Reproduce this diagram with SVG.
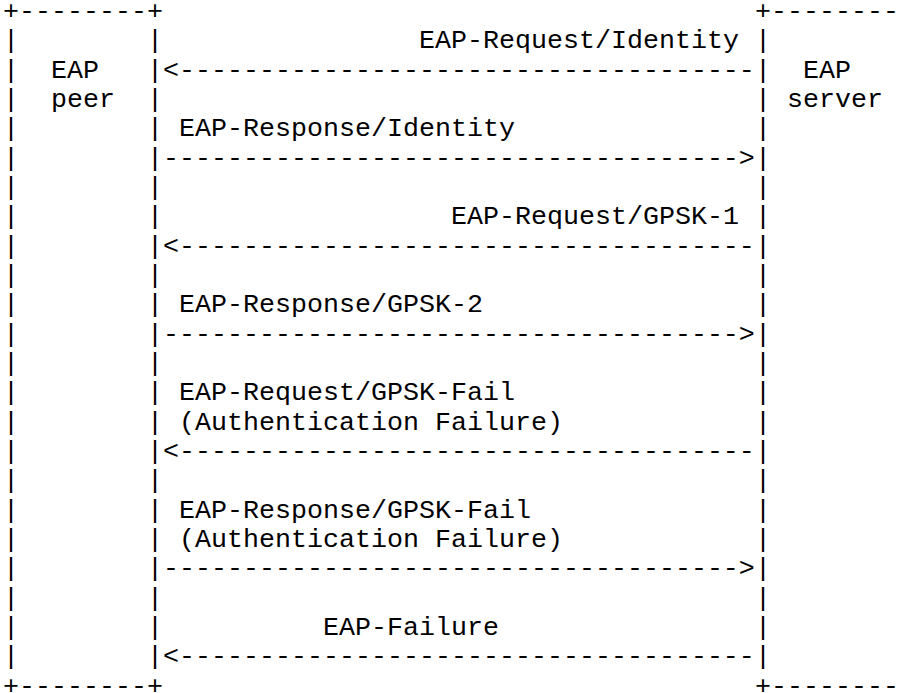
<svg xmlns="http://www.w3.org/2000/svg" width="905" height="693" viewBox="0 0 905 693">
<style>
text { font-family: "Liberation Mono", "Courier New", "DejaVu Sans Mono", monospace; font-size: 26.67px; fill: #000; white-space: pre; }
</style>
<rect width="905" height="693" fill="#fff"/>
<g id="peer">
<text xml:space="preserve" x="3" y="19">+--------+</text>
<text xml:space="preserve" x="3"><tspan x="3" y="48.33">|        |</tspan><tspan x="3" y="77.67">|  EAP   |</tspan><tspan x="3" y="107">|  peer  |</tspan><tspan x="3" y="136.33">|        |</tspan><tspan x="3" y="165.67">|        |</tspan><tspan x="3" y="195">|        |</tspan><tspan x="3" y="224.33">|        |</tspan><tspan x="3" y="253.67">|        |</tspan><tspan x="3" y="283">|        |</tspan><tspan x="3" y="312.33">|        |</tspan><tspan x="3" y="341.67">|        |</tspan><tspan x="3" y="371">|        |</tspan><tspan x="3" y="400.33">|        |</tspan><tspan x="3" y="429.67">|        |</tspan><tspan x="3" y="459">|        |</tspan><tspan x="3" y="488.33">|        |</tspan><tspan x="3" y="517.67">|        |</tspan><tspan x="3" y="547">|        |</tspan><tspan x="3" y="576.33">|        |</tspan><tspan x="3" y="605.67">|        |</tspan><tspan x="3" y="635">|        |</tspan><tspan x="3" y="664.33">|        |</tspan></text>
<text xml:space="preserve" x="3" y="693.67">+--------+</text>
</g>
<g id="server">
<text xml:space="preserve" x="755" y="19">+--------</text>
<text xml:space="preserve" x="755"><tspan x="755" y="48.33">|</tspan><tspan x="755" y="77.67">|  EAP</tspan><tspan x="755" y="107">| server</tspan><tspan x="755" y="136.33">|</tspan><tspan x="755" y="165.67">|</tspan><tspan x="755" y="195">|</tspan><tspan x="755" y="224.33">|</tspan><tspan x="755" y="253.67">|</tspan><tspan x="755" y="283">|</tspan><tspan x="755" y="312.33">|</tspan><tspan x="755" y="341.67">|</tspan><tspan x="755" y="371">|</tspan><tspan x="755" y="400.33">|</tspan><tspan x="755" y="429.67">|</tspan><tspan x="755" y="459">|</tspan><tspan x="755" y="488.33">|</tspan><tspan x="755" y="517.67">|</tspan><tspan x="755" y="547">|</tspan><tspan x="755" y="576.33">|</tspan><tspan x="755" y="605.67">|</tspan><tspan x="755" y="635">|</tspan><tspan x="755" y="664.33">|</tspan></text>
<text xml:space="preserve" x="755" y="693.67">+--------</text>
</g>
<g id="connectors">
<text xml:space="preserve" x="163" y="77.67">&lt;------------------------------------</text>
<text xml:space="preserve" x="163" y="165.67">------------------------------------&gt;</text>
<text xml:space="preserve" x="163" y="253.67">&lt;------------------------------------</text>
<text xml:space="preserve" x="163" y="341.67">------------------------------------&gt;</text>
<text xml:space="preserve" x="163" y="459">&lt;------------------------------------</text>
<text xml:space="preserve" x="163" y="576.33">------------------------------------&gt;</text>
<text xml:space="preserve" x="163" y="664.33">&lt;------------------------------------</text>
</g>
<g id="messages">
<text x="419" y="48.33">EAP-Request/Identity</text>
<text x="179" y="136.33">EAP-Response/Identity</text>
<text x="451" y="224.33">EAP-Request/GPSK-1</text>
<text x="179" y="312.33">EAP-Response/GPSK-2</text>
<text x="179" y="400.33">EAP-Request/GPSK-Fail</text>
<text x="179" y="429.67">(Authentication Failure)</text>
<text x="179" y="517.67">EAP-Response/GPSK-Fail</text>
<text x="179" y="547">(Authentication Failure)</text>
<text x="323" y="635">EAP-Failure</text>
</g>
</svg>
